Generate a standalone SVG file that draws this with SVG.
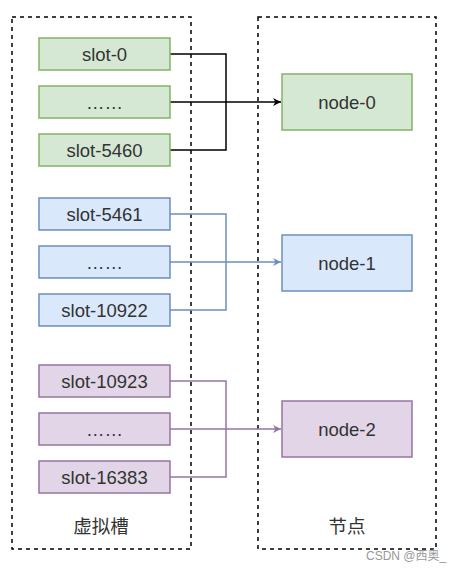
<svg xmlns="http://www.w3.org/2000/svg" width="462" height="572" viewBox="0 0 462 572">
<defs>
<style>
text{font-family:"Liberation Sans","Noto Sans CJK SC",sans-serif;font-size:18.5px;fill:#333;text-anchor:middle;dominant-baseline:central}
.cont{fill:none;stroke:#000;stroke-width:1.5;stroke-dasharray:4 4}
.g{fill:#d5e8d4;stroke:#82b366;stroke-width:1.5}
.b{fill:#dae8fc;stroke:#6c8ebf;stroke-width:1.5}
.p{fill:#e1d5e7;stroke:#9673a6;stroke-width:1.5}
.lk{fill:none;stroke:#000;stroke-width:1.5}
.lb{fill:none;stroke:#6c8ebf;stroke-width:1.5}
.lp{fill:none;stroke:#9673a6;stroke-width:1.5}
.wm{font-size:12px;fill:#999;text-anchor:start}
</style>
<marker id="ak" viewBox="0 0 10 10" refX="10" refY="5" markerWidth="8" markerHeight="8" markerUnits="userSpaceOnUse" orient="auto"><path d="M0,0L10,5L0,10L3,5Z" fill="#000"/></marker>
<marker id="ab" viewBox="0 0 10 10" refX="10" refY="5" markerWidth="8" markerHeight="8" markerUnits="userSpaceOnUse" orient="auto"><path d="M0,0L10,5L0,10L3,5Z" fill="#6c8ebf"/></marker>
<marker id="ap" viewBox="0 0 10 10" refX="10" refY="5" markerWidth="8" markerHeight="8" markerUnits="userSpaceOnUse" orient="auto"><path d="M0,0L10,5L0,10L3,5Z" fill="#9673a6"/></marker>
</defs>
<g id="container-slots"><rect class="cont" x="12" y="17" width="179" height="532"/><text x="101" y="526">虚拟槽</text></g>
<g id="container-nodes"><rect class="cont" x="258" y="17" width="178" height="532"/><text x="347" y="526">节点</text></g>
<g id="connectors">
<path class="lk" d="M170,54H226V150H170"/>
<path class="lk" d="M170,102H281" marker-end="url(#ak)"/>
<path class="lb" d="M170,214H226V310H170"/>
<path class="lb" d="M170,262H281" marker-end="url(#ab)"/>
<path class="lp" d="M170,381H226V477H170"/>
<path class="lp" d="M170,429H281" marker-end="url(#ap)"/>
</g>
<g id="slot-0"><rect class="g" x="39" y="38" width="131" height="32"/><text x="104.5" y="54">slot-0</text></g>
<g id="slot-dots-0"><rect class="g" x="39" y="86" width="131" height="32"/><text x="104.5" y="102">……</text></g>
<g id="slot-5460"><rect class="g" x="39" y="134" width="131" height="32"/><text x="104.5" y="150">slot-5460</text></g>
<g id="slot-5461"><rect class="b" x="39" y="198" width="131" height="32"/><text x="104.5" y="214">slot-5461</text></g>
<g id="slot-dots-1"><rect class="b" x="39" y="246" width="131" height="32"/><text x="104.5" y="262">……</text></g>
<g id="slot-10922"><rect class="b" x="39" y="294" width="131" height="32"/><text x="104.5" y="310">slot-10922</text></g>
<g id="slot-10923"><rect class="p" x="39" y="365" width="131" height="32"/><text x="104.5" y="381">slot-10923</text></g>
<g id="slot-dots-2"><rect class="p" x="39" y="413" width="131" height="32"/><text x="104.5" y="429">……</text></g>
<g id="slot-16383"><rect class="p" x="39" y="461" width="131" height="32"/><text x="104.5" y="477">slot-16383</text></g>
<g id="node-0"><rect class="g" x="282" y="74" width="130" height="56"/><text x="347" y="102">node-0</text></g>
<g id="node-1"><rect class="b" x="282" y="235" width="130" height="56"/><text x="347" y="263">node-1</text></g>
<g id="node-2"><rect class="p" x="282" y="401" width="130" height="56"/><text x="347" y="429">node-2</text></g>
<text class="wm" x="366" y="556">CSDN @西奥_</text>
</svg>
